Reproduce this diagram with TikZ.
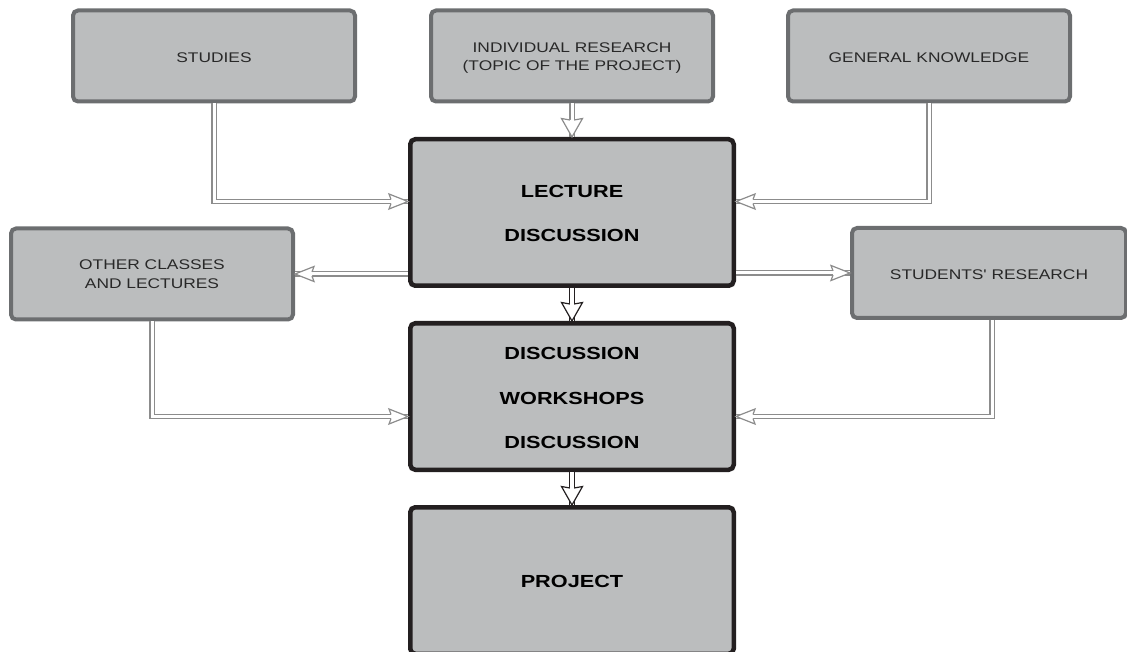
\documentclass[tikz,border=0pt]{standalone}
\usepackage{fontspec}
\setmainfont{Liberation Sans}
\newfontfamily\boxfont[FakeStretch=1.24]{Liberation Sans}
\usetikzlibrary{decorations.markings}

\definecolor{boxfill}{RGB}{187,189,190}
\definecolor{edgegray}{RGB}{108,110,112}
\definecolor{edgedark}{RGB}{35,31,32}
\definecolor{arrgray}{RGB}{140,140,140}
\definecolor{textgray}{RGB}{40,40,40}

% lower a label without changing its reported size
\newcommand{\lowerby}[2]{\raisebox{-#1}[\height][\depth]{#2}}

\begin{document}
\begin{tikzpicture}[x=1pt,y=-1pt,
  box/.style={rectangle, rounded corners=5pt, fill=boxfill, draw=edgegray,
    line width=4pt, inner sep=0pt, align=center, text=textgray,
    minimum width=282pt, minimum height=91pt,
    font=\boxfont\fontsize{14}{19.5}\selectfont},
  mainbox/.style={box, draw=edgedark, line width=4.5pt, text=black,
    minimum width=323.5pt, minimum height=146.5pt,
    font=\boxfont\bfseries\fontsize{17.5}{44.5}\selectfont},
  % hollow double-line connector with an open arrow head at its end;
  % the head is wider when the connector ends vertically
  conn/.style n args={3}{draw=#1, line width=1.2pt, double=white,
    double distance=3pt, line join=miter,
    postaction={decorate},
    decoration={markings, mark=at position 1 with {
      \draw[draw=#1, fill=white, line width=1.2pt, line join=miter]
        (-17,2.1) -- (-#2-1.5,#3) -- (0,0) -- (-#2-1.5,-#3) -- (-17,-2.1);}}},
  hconn/.style={conn={arrgray}{17.5}{7.5}},
  vconn/.style={conn={arrgray}{17}{10.5}},
  darkconn/.style={conn={edgedark}{17}{10.5}, line width=1.6pt,
    double distance=3.2pt}
]
\useasboundingbox (0,0) rectangle (1127,652);
\clip (0,0) rectangle (1127,652);

% source boxes
\node[box] (stud)  at (214,56)   {\lowerby{2pt}{STUDIES}};
\node[box] (indiv) at (572,56)   {\lowerby{2pt}{\shortstack{INDIVIDUAL RESEARCH\\[4.5pt](TOPIC OF THE PROJECT)}}};
\node[box] (gen)   at (929,56)   {\lowerby{2pt}{GENERAL KNOWLEDGE}};
\node[box] (other) at (152,274)  {OTHER CLASSES\\AND LECTURES};
\node[box, minimum width=274pt, minimum height=90pt] (stres) at (989,273) {\lowerby{1.5pt}{STUDENTS' RESEARCH}};

% main column
\node[mainbox] (lect) at (572,212.5) {\lowerby{1pt}{\shortstack{LECTURE\\[28pt]DISCUSSION}}};
\node[mainbox] (disc) at (572,396.5) {\lowerby{1.5pt}{\shortstack{DISCUSSION\\[29.5pt]WORKSHOPS\\[29.5pt]DISCUSSION}}};
\node[mainbox] (proj) at (572,580.5) {\lowerby{0.5pt}{PROJECT}};

% inputs of the lecture
\draw[hconn] (stud.south) |- ([yshift=11pt]lect.west);
\draw[vconn] (lect.north |- indiv.south) -- (lect.north);
\draw[hconn] (gen.south) |- ([yshift=11pt]lect.east);

% outputs of the lecture
\draw[hconn] (lect.west |- other.east) -- (other.east);
\draw[hconn] (lect.east |- stres.west) -- (stres.west);

% inputs of the discussion
\draw[hconn] (other.south) |- ([yshift=-20pt]disc.west);
\draw[hconn] ([xshift=3pt]stres.south) |- ([yshift=-20pt]disc.east);

% main flow
\draw[darkconn] (lect.south) -- (disc.north);
\draw[darkconn] (disc.south) -- (proj.north);
\end{tikzpicture}
\end{document}
